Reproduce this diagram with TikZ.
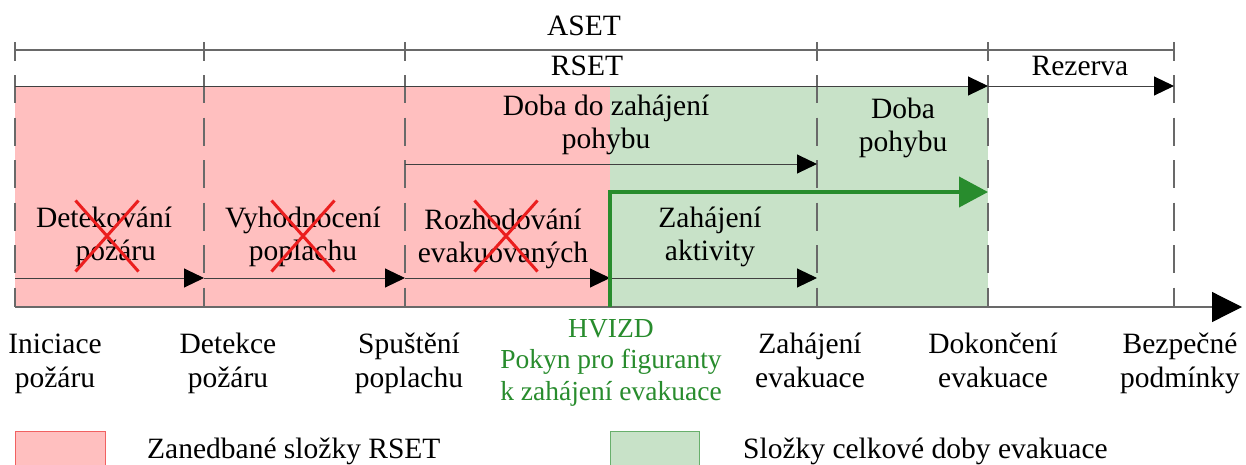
\documentclass[tikz,border=0pt]{standalone}
\usepackage{fontspec}
\setmainfont{Liberation Serif}
\usetikzlibrary{arrows.meta,shapes.misc}
\definecolor{pinkfill}{RGB}{255,191,191}
\definecolor{greenfill}{RGB}{200,226,200}
\definecolor{hgreen}{RGB}{40,140,45}
\definecolor{linegray}{RGB}{105,105,105}
\definecolor{xred}{RGB}{235,30,30}
\begin{document}
\begin{tikzpicture}[x=1pt,y=-1pt,
  lbl/.style={font=\fontsize{29.5}{32.5}\selectfont, align=center, inner sep=0pt, anchor=base},
  blbl/.style={font=\fontsize{29.5}{34}\selectfont, align=center, inner sep=0pt, anchor=base},
  glbl/.style={font=\fontsize{27.5}{31.5}\selectfont, align=center, inner sep=0pt, anchor=base, text=hgreen},
  leglbl/.style={font=\fontsize{29.5}{33}\selectfont, inner sep=0pt, anchor=base west},
  tickline/.style={linegray, line width=1.2pt},
  dashline/.style={linegray, line width=1.2pt, dash pattern=on 28pt off 14.5pt},
  blk/.style={line width=1pt, black!75, -{Triangle[length=20pt,width=19pt,color=black]}},
  grn/.style={line width=4pt, hgreen, line join=miter, -{Triangle[length=29pt,width=30pt]}},
  axis/.style={line width=1.2pt, linegray, -{Triangle[length=30pt,width=30pt,color=black]}},
  xmark/.style={cross out, draw=xred, line width=3pt, minimum width=60pt, minimum height=68pt, inner sep=0pt},
]
\useasboundingbox (0,0) rectangle (1246,464);
\fill[white] (0,0) rectangle (1246,464);

% regions
\fill[pinkfill] (15,86) rectangle (610,307);
\fill[greenfill] (610,86) rectangle (988,307);

% ASET bar
\coordinate (as0) at (15,50);
\coordinate (as5) at (1174,50);
\draw[tickline] (as0) -- (as5);
\foreach \x in {15,204,405,817,988,1174}{
  \draw[tickline] (\x,42) -- (\x,61);
  \draw[dashline] (\x,75) -- (\x,307);
}

% RSET and Rezerva
\coordinate (r0) at (15,86);
\coordinate (r1) at (988,86);
\coordinate (r2) at (1174,86);
\draw[blk] (r0) -- (r1);
\draw[blk] (r1) -- (r2);

% Doba do zahájení pohybu arrow
\coordinate (d0) at (405,164);
\coordinate (d1) at (817,164);
\draw[blk] (d0) -- (d1);

% bottom arrows
\coordinate (b0) at (15,278);
\coordinate (b1) at (204,278);
\coordinate (b2) at (405,278);
\coordinate (b3) at (610,278);
\coordinate (b4) at (817,278);
\draw[blk] (b0) -- (b1);
\draw[blk] (b1) -- (b2);
\draw[blk] (b2) -- (b3);
\draw[blk] (b3) -- (b4);

% axis
\coordinate (ax0) at (15,307);
\coordinate (ax1) at (1242,307);
\draw[axis] (ax0) -- (ax1);

% green HVIZD arrow
\coordinate (g0) at (610,307);
\coordinate (g1) at (610,192);
\coordinate (g2) at (988,192);
\draw[grn] (g0) -- (g1) -- (g2);

% top texts
\node[lbl] (aset) at (584,35) {ASET};
\node[lbl] (rset) at (587,75) {RSET};
\node[lbl] (rez) at (1080,75) {Rezerva};
\node[lbl] (ddz) at (606,148) {Doba do zahájení\\pohybu};
\node[lbl] (dp) at (903,151) {Doba\\pohybu};

% box texts
\node[lbl] (det) at (104,260) {Detekování\\\hspace*{0.8em}požáru};
\node[lbl] (vyh) at (303,260) {Vyhodnocení\\poplachu};
\node[lbl] (roz) at (503,262) {Rozhodování\\evakuovaných};
\node[lbl] (zak) at (710,260) {Zahájení\\aktivity};

% crosses
\node[xmark] (x1) at (107,236) {};
\node[xmark] (x2) at (303,236) {};
\node[xmark] (x3) at (506,236) {};

% bottom labels
\node[blbl] (ini) at (55,387) {Iniciace\\požáru};
\node[blbl] (dtk) at (228,387) {Detekce\\požáru};
\node[blbl] (spu) at (409,387) {Spuštění\\poplachu};
\node[glbl] (hv) at (611,400) {HVIZD\\Pokyn pro figuranty\\k zahájení evakuace};
\node[blbl] (zev) at (810,387) {Zahájení\\evakuace};
\node[blbl] (dev) at (993,387) {Dokončení\\evakuace};
\node[blbl] (bez) at (1180,387) {Bezpečné\\podmínky};

% legend
\node[draw=xred!70, fill=pinkfill, line width=1pt, minimum width=90pt, minimum height=40pt, inner sep=0pt, anchor=north west] (lp) at (15,431) {};
\node[leglbl] (lpt) at (147,458) {Zanedbané složky RSET};
\node[draw=hgreen!70, fill=greenfill, line width=1pt, minimum width=89pt, minimum height=40pt, inner sep=0pt, anchor=north west] (lg) at (610,431) {};
\node[leglbl] (lgt) at (743,458) {Složky celkové doby evakuace};
\end{tikzpicture}
\end{document}
